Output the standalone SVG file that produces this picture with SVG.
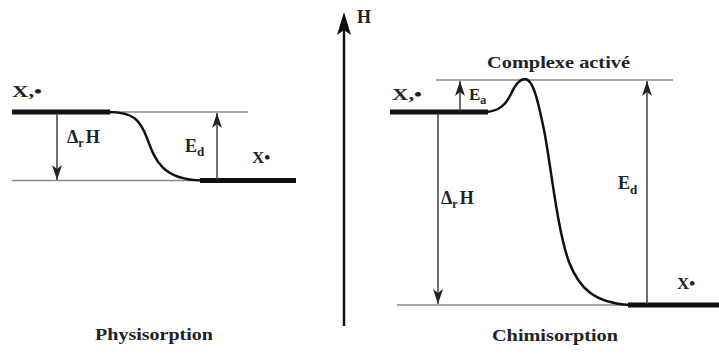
<svg xmlns="http://www.w3.org/2000/svg" width="719" height="354" viewBox="0 0 719 354">
<style>
.thin{stroke:#8a8a8a;stroke-width:1.5;fill:none}
.thick{stroke:#111;stroke-width:5;fill:none}
.curve{stroke:#111;stroke-width:2.5;fill:none}
.arr{stroke:#333;stroke-width:1.4;fill:none;marker-end:url(#ah)}
.lbl{font-family:"Liberation Serif",serif;font-weight:bold;fill:#222}
</style>
<defs>
<marker id="ah" markerUnits="userSpaceOnUse" markerWidth="15" markerHeight="10" viewBox="0 0 15 10" refX="15" refY="5" orient="auto">
<path d="M0,0 L15,5 L0,10 L4,5 Z" fill="#222"/>
</marker>
</defs>
<g id="axis">
<line x1="344" y1="326" x2="344" y2="30" stroke="#111" stroke-width="2.5"/>
<path d="M344,12 L351,35 L344,30 L337,35 Z" fill="#111"/>
<text class="lbl" x="357" y="23" font-size="18">H</text>
</g>
<g id="physisorption">
<line class="thin" x1="108" y1="112" x2="248" y2="112"/>
<line class="thin" x1="12" y1="180.5" x2="200" y2="180.5"/>
<line class="thick" x1="12" y1="112" x2="110" y2="112"/>
<line class="thick" x1="200" y1="180.5" x2="296" y2="180.5"/>
<path class="curve" d="M108,112 C134,112 140,120 147,138 C155,160 162,180 202,180.5"/>
<text class="lbl" x="12" y="97" font-size="17" textLength="30" lengthAdjust="spacingAndGlyphs">X,•</text>
<text class="lbl" x="252" y="163" font-size="17">X•</text>
<text class="lbl" x="67" y="143" font-size="18">Δ<tspan font-size="12" dy="4">r</tspan><tspan dy="-4" dx="2">H</tspan></text>
<text class="lbl" x="185" y="152" font-size="18">E<tspan font-size="13" dy="4">d</tspan></text>
<text class="lbl" x="95" y="340" font-size="17" textLength="118" lengthAdjust="spacingAndGlyphs">Physisorption</text>
</g>
<g id="chimisorption">
<line class="thin" x1="436" y1="80" x2="673" y2="80"/>
<line class="thin" x1="397" y1="305" x2="630" y2="305"/>
<line class="thick" x1="390" y1="112" x2="488" y2="112"/>
<line class="thick" x1="628" y1="305" x2="719" y2="305"/>
<path class="curve" d="M486,112 C500,111 506,104 511,94 C515,85 519,79 525,79 C533,79 538,100 545,135 C552,175 558,232 569,262 C579,288 594,303 630,305"/>
<text class="lbl" x="487" y="68" font-size="16" textLength="143" lengthAdjust="spacingAndGlyphs">Complexe activé</text>
<text class="lbl" x="392" y="100" font-size="17" textLength="30" lengthAdjust="spacingAndGlyphs">X,•</text>
<text class="lbl" x="469" y="100" font-size="17">E<tspan font-size="12" dy="4">a</tspan></text>
<text class="lbl" x="441" y="204" font-size="18">Δ<tspan font-size="12" dy="4">r</tspan><tspan dy="-4" dx="2">H</tspan></text>
<text class="lbl" x="618" y="189" font-size="18">E<tspan font-size="13" dy="5">d</tspan></text>
<text class="lbl" x="677" y="289" font-size="17">X•</text>
<text class="lbl" x="492" y="341" font-size="17" textLength="126" lengthAdjust="spacingAndGlyphs">Chimisorption</text>
</g>
<g id="connectors">
<line class="arr" x1="57" y1="113" x2="57" y2="180"/>
<line class="arr" x1="217" y1="180" x2="217" y2="113"/>
<line class="arr" x1="460" y1="112" x2="460" y2="81"/>
<line class="arr" x1="438" y1="113" x2="438" y2="304"/>
<line class="arr" x1="647" y1="304" x2="647" y2="81"/>
</g>
</svg>
